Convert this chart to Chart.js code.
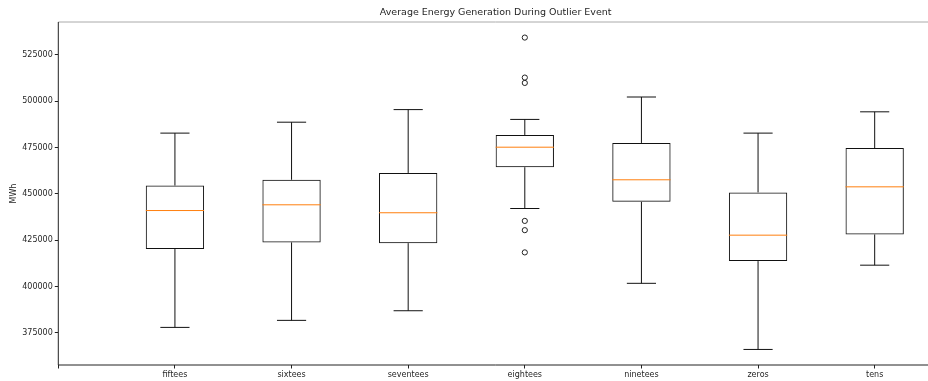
<!DOCTYPE html>
<html lang="en">
<head>
    <meta charset="UTF-8">
    <title>Average Energy Generation During Outlier Event</title>
    <script src="https://cdn.jsdelivr.net/npm/chart.js"></script>
    <style>
        html, body { margin: 0; padding: 0; background: #fff; overflow: hidden; }
        .wrap { width: 938px; height: 381px; position: relative; }
    </style>
</head>
<body>
    <div class="wrap">
        <canvas id="boxChart"></canvas>
    </div>
    <script>
        // box statistics per decade (MWh)
        const categories = ['fiftees', 'sixtees', 'seventees', 'eightees', 'ninetees', 'zeros', 'tens'];
        const whiskerLow = [377900, 381700, 386900, 442100, 401700, 366000, 411500];
        const q1 = [420200, 423800, 423400, 464400, 445700, 413700, 428100];
        const medians = [441000, 444100, 439800, 475200, 457600, 427700, 453800];
        const q3 = [454500, 457600, 461300, 481800, 477500, 450800, 474700];
        const whiskerHigh = [482800, 488700, 495500, 490200, 502300, 482800, 494300];
        // fliers: [category index, value]
        const outlierCat = [3, 3, 3, 3, 3, 3];
        const outlierVal = [534400, 512800, 509900, 435400, 430400, 418400];
        const yTicks = [375000, 400000, 425000, 450000, 475000, 500000, 525000];

        const textColor = '#262626';
        const fontFamily = '"DejaVu Sans", sans-serif';

        // whiskers, caps, medians and the axes frame, drawn through the chart scales
        const boxExtras = {
            id: 'boxExtras',
            afterDatasetsDraw(chart) {
                const ctx = chart.ctx;
                const xs = chart.scales.x, ys = chart.scales.y;
                const area = chart.chartArea;
                ctx.save();
                ctx.lineWidth = 1;
                categories.forEach((c, i) => {
                    const pos = i + 1;
                    const xc = xs.getPixelForValue(pos);
                    const capL = xs.getPixelForValue(pos - 0.125), capR = xs.getPixelForValue(pos + 0.125);
                    const boxL = xs.getPixelForValue(pos - 0.25), boxR = xs.getPixelForValue(pos + 0.25);
                    ctx.strokeStyle = '#111';
                    ctx.beginPath();
                    ctx.moveTo(xc, ys.getPixelForValue(whiskerLow[i]));
                    ctx.lineTo(xc, ys.getPixelForValue(q1[i]));
                    ctx.moveTo(xc, ys.getPixelForValue(q3[i]));
                    ctx.lineTo(xc, ys.getPixelForValue(whiskerHigh[i]));
                    ctx.moveTo(capL, ys.getPixelForValue(whiskerLow[i]));
                    ctx.lineTo(capR, ys.getPixelForValue(whiskerLow[i]));
                    ctx.moveTo(capL, ys.getPixelForValue(whiskerHigh[i]));
                    ctx.lineTo(capR, ys.getPixelForValue(whiskerHigh[i]));
                    ctx.stroke();
                    ctx.strokeStyle = '#ff7f0e';
                    ctx.beginPath();
                    ctx.moveTo(boxL, ys.getPixelForValue(medians[i]));
                    ctx.lineTo(boxR, ys.getPixelForValue(medians[i]));
                    ctx.stroke();
                });
                // spines
                ctx.strokeStyle = '#aaa';
                ctx.beginPath();
                ctx.moveTo(area.left, area.top);
                ctx.lineTo(area.right, area.top);
                ctx.stroke();
                ctx.strokeStyle = '#222';
                ctx.beginPath();
                ctx.moveTo(area.left, area.top);
                ctx.lineTo(area.left, area.bottom);
                ctx.lineTo(area.right, area.bottom);
                ctx.lineTo(area.right, area.top);
                ctx.stroke();
                ctx.restore();
            }
        };

        const ctx = document.getElementById('boxChart').getContext('2d');
        new Chart(ctx, {
            type: 'bar',
            data: {
                datasets: [
                    {
                        type: 'bar',
                        label: 'IQR',
                        data: categories.map((c, i) => ({ x: i + 1, y: [q1[i], q3[i]] })),
                        backgroundColor: 'rgba(0,0,0,0)',
                        borderColor: '#111',
                        borderWidth: 1,
                        borderSkipped: false,
                        categoryPercentage: 1,
                        barPercentage: 0.5
                    },
                    {
                        type: 'scatter',
                        label: 'Outliers',
                        data: outlierVal.map((v, i) => ({ x: outlierCat[i] + 1, y: v })),
                        pointStyle: 'circle',
                        pointRadius: 2.6,
                        pointBorderWidth: 1,
                        borderColor: '#222',
                        backgroundColor: 'rgba(0,0,0,0)'
                    }
                ]
            },
            options: {
                responsive: true,
                maintainAspectRatio: false,
                animation: false,
                layout: { padding: 0 },
                plugins: {
                    legend: { display: false },
                    tooltip: { enabled: false },
                    title: {
                        display: true,
                        text: 'Average Energy Generation During Outlier Event',
                        fullSize: false,
                        color: textColor,
                        font: { family: fontFamily, size: 9.5, weight: 'normal' },
                        padding: { top: 7, bottom: 3.6 }
                    }
                },
                scales: {
                    x: {
                        type: 'linear',
                        min: 0,
                        max: 7.5,
                        offset: false,
                        afterBuildTicks: s => { s.ticks = [0, 1, 2, 3, 4, 5, 6, 7].map(v => ({ value: v })); },
                        afterFit: s => { s.height = 16; },
                        grid: { display: true, offset: false, drawOnChartArea: false, drawTicks: true, tickLength: 3.5, tickColor: '#222' },
                        border: { display: false },
                        ticks: {
                            padding: 1.5,
                            maxRotation: 0,
                            autoSkip: false,
                            color: textColor,
                            font: { family: fontFamily, size: 8 },
                            callback: v => (v >= 1 && v <= categories.length ? categories[v - 1] : '')
                        }
                    },
                    y: {
                        min: 357600,
                        max: 542800,
                        afterBuildTicks: s => { s.ticks = yTicks.map(v => ({ value: v })); },
                        afterFit: s => { s.width = 58.3; },
                        grid: { display: true, drawOnChartArea: false, drawTicks: true, tickLength: 3.5, tickColor: '#222' },
                        border: { display: false },
                        title: {
                            display: true,
                            text: 'MWh',
                            color: textColor,
                            font: { family: fontFamily, size: 8 },
                            padding: { top: 9, bottom: 0 }
                        },
                        ticks: {
                            padding: 2,
                            color: textColor,
                            font: { family: fontFamily, size: 8 },
                            callback: v => String(v)
                        }
                    }
                }
            },
            plugins: [boxExtras]
        });
    </script>
</body>
</html>
